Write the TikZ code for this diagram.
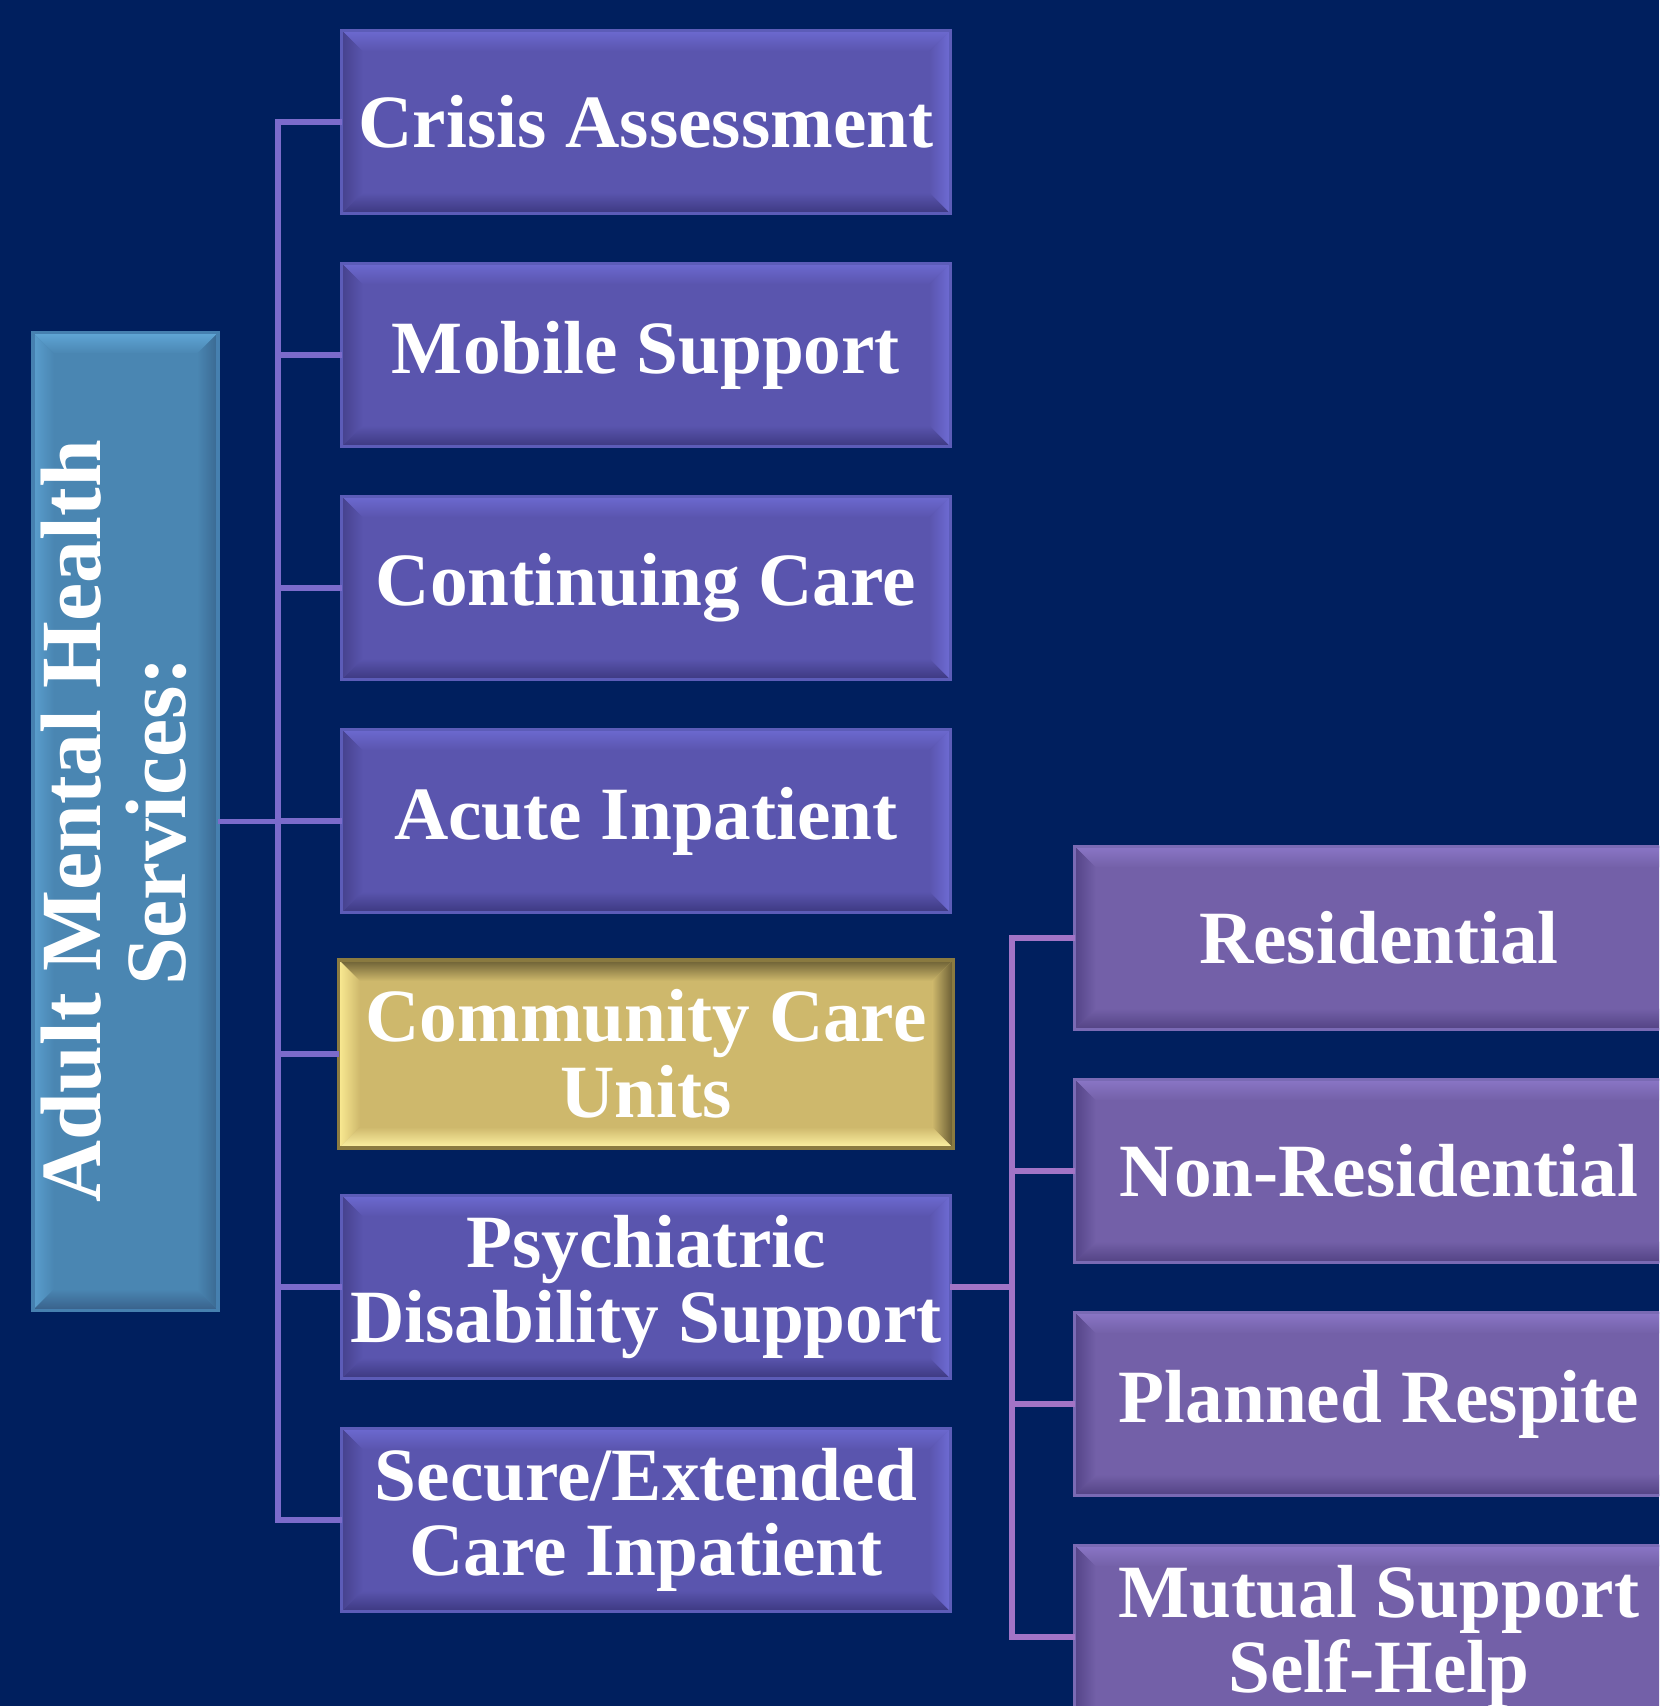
\documentclass[tikz,border=0pt]{standalone}
\usepackage{fontspec}
\setmainfont{Liberation Serif}
\usepackage{graphicx}
\usetikzlibrary{calc}

\definecolor{bgnavy}{HTML}{001F5E}
% purple service boxes
\definecolor{unit-fill}{HTML}{5A55AE}
\definecolor{unit-top}{HTML}{6C69D0}
\definecolor{unit-left}{HTML}{46428E}
\definecolor{unit-right}{HTML}{6E6BD4}
\definecolor{unit-bottom}{HTML}{3C3880}
\definecolor{unit-rim}{HTML}{5C5CB8}
% violet sub-service boxes
\definecolor{sub-fill}{HTML}{7360A8}
\definecolor{sub-top}{HTML}{8A76C6}
\definecolor{sub-left}{HTML}{544488}
\definecolor{sub-right}{HTML}{8472BE}
\definecolor{sub-bottom}{HTML}{524283}
\definecolor{sub-rim}{HTML}{7A6AB4}
% highlighted box
\definecolor{gold-fill}{HTML}{CEB86C}
\definecolor{gold-top}{HTML}{6A5E34}
\definecolor{gold-left}{HTML}{FAEA92}
\definecolor{gold-right}{HTML}{665A32}
\definecolor{gold-bottom}{HTML}{FFF4A4}
\definecolor{gold-rim}{HTML}{8A7A40}
% root box
\definecolor{root-fill}{HTML}{4A86B2}
\definecolor{root-top}{HTML}{60A6D6}
\definecolor{root-left}{HTML}{5A9ECE}
\definecolor{root-right}{HTML}{3A6891}
\definecolor{root-bottom}{HTML}{38608A}
\definecolor{root-rim}{HTML}{4680B0}
% connectors
\definecolor{trunkline}{HTML}{7B6BCB}
\definecolor{subline}{HTML}{A274C6}

\def\bevelw{0.21cm}

\tikzset{
    % four shaded faces round the inside of a box
    bevelled/.style={path picture={
        \coordinate (nw) at (path picture bounding box.north west);
        \coordinate (ne) at (path picture bounding box.north east);
        \coordinate (sw) at (path picture bounding box.south west);
        \coordinate (se) at (path picture bounding box.south east);
        \shade[top color=#1-top, bottom color=#1-fill]
            (nw) -- (ne) -- ($(ne)+(-\bevelw,-\bevelw)$) -- ($(nw)+(\bevelw,-\bevelw)$) -- cycle;
        \shade[left color=#1-left, right color=#1-fill]
            (nw) -- ($(nw)+(\bevelw,-\bevelw)$) -- ($(sw)+(\bevelw,\bevelw)$) -- (sw) -- cycle;
        \shade[left color=#1-fill, right color=#1-right]
            (ne) -- ($(ne)+(-\bevelw,-\bevelw)$) -- ($(se)+(-\bevelw,\bevelw)$) -- (se) -- cycle;
        \shade[top color=#1-fill, bottom color=#1-bottom]
            (sw) -- ($(sw)+(\bevelw,\bevelw)$) -- ($(se)+(-\bevelw,\bevelw)$) -- (se) -- cycle;
    }},
    box/.style={bevelled=#1, fill=#1-fill, draw=#1-rim, line width=0.9pt,
        minimum width=6.08cm, minimum height=1.83cm, inner sep=0pt, outer sep=0pt,
        text=white, align=center, font=\bfseries\fontsize{21.4}{21.5}\selectfont},
    link/.style={draw=#1, line width=1.7pt}
}

\begin{document}
\begin{tikzpicture}[x=0.01cm, y=-0.01cm]
    % Page and background
    \useasboundingbox (0,0) rectangle (1659,1706);
    \clip (0,0) rectangle (1659,1706);
    \fill[bgnavy] (0,0) rectangle (1659,1706);

    % Root box
    \node[box=root, minimum width=1.85cm, minimum height=9.77cm,
          font=\bfseries\fontsize{24.4}{24}\selectfont] (root) at (125.5,821.5)
        {\rotatebox{90}{\begin{tabular}{@{}c@{}}Adult Mental Health\\Services:\end{tabular}}};

    % Service boxes, left column
    \node[box=unit] (crisis)   at (646,122)  {Crisis Assessment};
    \node[box=unit] (mobile)   at (646,355)  {Mobile Support};
    \node[box=unit] (contcare) at (646,588)  {Continuing Care};
    \node[box=unit] (acute)    at (646,821)  {Acute Inpatient};
    \node[box=gold, minimum width=6.14cm, minimum height=1.88cm] (ccu) at (646,1054)
        {Community Care\\Units};
    \node[box=unit] (pds)      at (646,1287) {Psychiatric\\Disability Support};
    \node[box=unit] (secure)   at (646,1520) {Secure/Extended\\Care Inpatient};

    % PDS sub-services, right column
    \node[box=sub] (resi)    at (1379,938)  {Residential};
    \node[box=sub] (nonresi) at (1379,1171) {Non-Residential};
    \node[box=sub] (respite) at (1379,1404) {Planned Respite};
    \node[box=sub] (mutual)  at (1379,1637) {Mutual Support\\Self-Help};

    % Tree connectors
    \foreach \child in {crisis,mobile,contcare,acute,ccu,pds,secure}
        \draw[link=trunkline] (root.east) -- ++(60,0) |- (\child.west);
    \foreach \child in {resi,nonresi,respite,mutual}
        \draw[link=subline] (pds.east) -- ++(62,0) |- (\child.west);
\end{tikzpicture}
\end{document}
